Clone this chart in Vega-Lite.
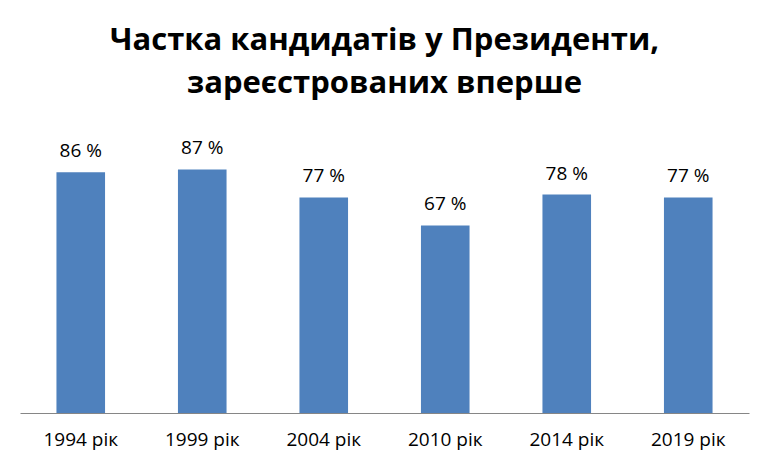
{
  "$schema": "https://vega.github.io/schema/vega-lite/v6.json",
  "autosize": "none",
  "padding": {"left": 20, "top": 133, "right": 19, "bottom": 50},
  "width": 729,
  "height": 280,
  "background": "white",
  "config": {"view": {"stroke": null}, "font": "Open Sans"},
  "title": {
    "text": ["Частка кандидатів у Президенти,", "зареєстрованих вперше"],
    "font": "Open Sans",
    "fontSize": 31,
    "fontWeight": "bold",
    "color": "black",
    "anchor": "middle",
    "baseline": "alphabetic",
    "lineHeight": 43,
    "offset": 9
  },
  "data": {
    "values": [
      {"year": "1994 рік", "share": 86, "label": "86 %"},
      {"year": "1999 рік", "share": 87, "label": "87 %"},
      {"year": "2004 рік", "share": 77, "label": "77 %"},
      {"year": "2010 рік", "share": 67, "label": "67 %"},
      {"year": "2014 рік", "share": 78, "label": "78 %"},
      {"year": "2019 рік", "share": 77, "label": "77 %"}
    ]
  },
  "encoding": {
    "x": {
      "field": "year",
      "type": "nominal",
      "sort": null,
      "scale": {"paddingInner": 0.6, "paddingOuter": 0.3},
      "axis": {
        "title": null,
        "labelAngle": 0,
        "labelFont": "Open Sans",
        "labelFontSize": 19,
        "labelColor": "black",
        "labelPadding": 17,
        "ticks": false,
        "domainColor": "#868686",
        "domainWidth": 1,
        "grid": false
      }
    },
    "y": {
      "field": "share",
      "type": "quantitative",
      "scale": {"domain": [0, 100]},
      "axis": null
    }
  },
  "layer": [
    {"mark": {"type": "bar", "color": "#4F81BD"}},
    {
      "mark": {"type": "text", "baseline": "alphabetic", "dy": -15, "font": "Open Sans", "fontSize": 19, "color": "black"},
      "encoding": {"text": {"field": "label"}}
    }
  ]
}
